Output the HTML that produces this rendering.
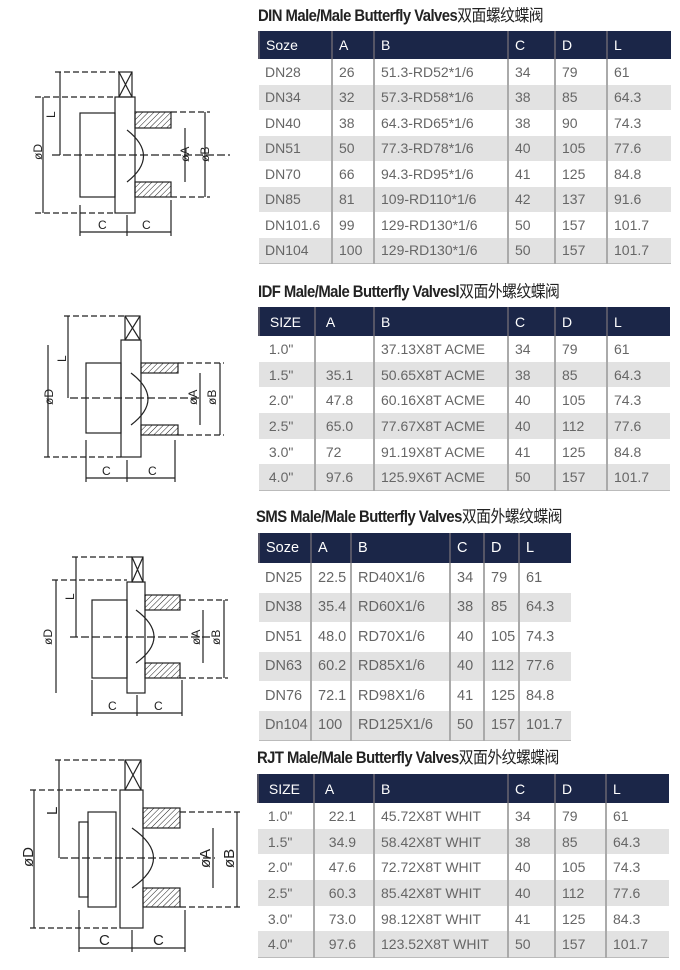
<!DOCTYPE html>
<html><head><meta charset="utf-8"><style>
body{margin:0;width:680px;height:970px;background:#fff;position:relative;overflow:hidden;font-family:"Liberation Sans","Noto Sans CJK SC",sans-serif}
.t{position:absolute;font-weight:bold;font-size:16.5px;color:#222;letter-spacing:-0.6px;transform:scaleX(0.9);transform-origin:left center;white-space:nowrap}
.t span{font-weight:normal}
table{position:absolute;border-collapse:collapse;table-layout:fixed;font-size:14px;color:#666;border-bottom:1px solid #bbb}
td{padding:0 0 0 6px;white-space:nowrap;border-left:2px solid #aaa;overflow:hidden}
td:first-child{border-left:none}
tr.h td{background:#1b2648;color:#fff;border-left:2px solid #556}
tr.g td{background:#e2e2e2}
</style></head><body>
<svg width="680" height="970" style="position:absolute;left:0;top:0">
<defs><pattern id="hp" width="4" height="4" patternUnits="userSpaceOnUse" patternTransform="rotate(45)"><line x1="0" y1="0" x2="0" y2="4" stroke="#222" stroke-width="1"/></pattern></defs>
<g fill="none" stroke="#222" stroke-width="1.2" font-family="Liberation Sans" font-size="12">
<!-- DIN -->
<rect x="119" y="72" width="13" height="25"/><path d="M119,72 L132,97 M132,72 L119,97"/>
<rect x="115" y="97" width="20" height="116"/>
<rect x="80" y="113" width="35" height="84"/>
<rect x="135" y="112" width="36" height="16" fill="url(#hp)"/><rect x="135" y="182" width="36" height="15" fill="url(#hp)"/>
<path d="M127,130 Q160,156 127,182"/>
<path d="M52,155 H230" stroke-dasharray="8,3"/>
<path d="M43,97 V213 M60,72 V155 M185,128 V182 M205,112 V197 M80,232 H171 M80,205 V236 M127,215 V236 M171,200 V236"/>
<path d="M35,97 H115 M35,213 H115 M55,72 H119 M171,112 H210 M171,197 H210" stroke-dasharray="6,3"/>
<g fill="#222" stroke="none"><text x="98" y="229">C</text><text x="142" y="229">C</text>
<text transform="translate(42,160) rotate(-90)">øD</text><text transform="translate(189,162) rotate(-90)">øA</text><text transform="translate(209,162) rotate(-90)">øB</text><text transform="translate(55,118) rotate(-90)">L</text></g>
<!-- IDF -->
<rect x="125" y="316" width="15" height="24"/><path d="M125,316 L140,340 M140,316 L125,340"/>
<rect x="121" y="340" width="20" height="117"/>
<rect x="86" y="363" width="35" height="70"/>
<rect x="141" y="363" width="37" height="10" fill="url(#hp)"/><rect x="141" y="425" width="37" height="10" fill="url(#hp)"/>
<path d="M131,373 Q165,399 131,425"/>
<path d="M70,398 H200" stroke-dasharray="8,3"/>
<path d="M48,345 V457 M68,316 V398 M200,373 V425 M220,363 V435 M86,478 H175 M86,440 V482 M127,460 V482 M175,440 V482"/>
<path d="M44,457 H121 M64,316 H125 M178,363 H224 M178,435 H224" stroke-dasharray="6,3"/>
<g fill="#222" stroke="none"><text x="102" y="475">C</text><text x="148" y="475">C</text>
<text transform="translate(53,405) rotate(-90)">øD</text><text transform="translate(197,405) rotate(-90)">øA</text><text transform="translate(216,405) rotate(-90)">øB</text><text transform="translate(66,362) rotate(-90)">L</text></g>
<!-- SMS -->
<rect x="132" y="557" width="11" height="25"/><path d="M132,557 L143,582 M143,557 L132,582"/>
<rect x="127" y="582" width="18" height="111"/>
<rect x="92" y="600" width="35" height="78"/>
<rect x="145" y="595" width="35" height="15" fill="url(#hp)"/><rect x="145" y="663" width="35" height="15" fill="url(#hp)"/>
<path d="M136,610 Q172,637 136,663"/>
<path d="M70,637 H210" stroke-dasharray="8,3"/>
<path d="M56,580 V693 M76,557 V637 M203,610 V663 M224,600 V678 M92,713 H182 M92,680 V716 M137,695 V716 M182,680 V716"/>
<path d="M52,580 H127 M72,557 H132 M180,600 H228 M180,678 H228" stroke-dasharray="6,3"/>
<g fill="#222" stroke="none"><text x="108" y="710">C</text><text x="154" y="710">C</text>
<text transform="translate(52,645) rotate(-90)">øD</text><text transform="translate(200,645) rotate(-90)">øA</text><text transform="translate(220,645) rotate(-90)">øB</text><text transform="translate(74,600) rotate(-90)">L</text></g>
<!-- RJT -->
<rect x="125" y="760" width="16" height="30"/><path d="M125,760 L141,790 M141,760 L125,790"/>
<rect x="120" y="790" width="23" height="138"/>
<rect x="88" y="812" width="28" height="95"/><rect x="79" y="822" width="9" height="75"/>
<rect x="143" y="808" width="37" height="20" fill="url(#hp)"/><rect x="143" y="888" width="37" height="19" fill="url(#hp)"/>
<path d="M132,828 Q175,858 132,888"/>
<path d="M60,858 H215" stroke-dasharray="8,3"/>
<path d="M34,790 V928 M59,760 V858 M213,828 V888 M237,812 V907 M79,948 H185 M79,910 V952 M132,930 V952 M185,910 V952"/>
<path d="M30,790 H120 M30,928 H120 M55,760 H125 M180,812 H240 M180,907 H240" stroke-dasharray="6,3"/>
<g fill="#222" stroke="none" font-size="15"><text x="99" y="945">C</text><text x="153" y="945">C</text>
<text transform="translate(33,867) rotate(-90)">øD</text><text transform="translate(210,868) rotate(-90)">øA</text><text transform="translate(234,868) rotate(-90)">øB</text><text transform="translate(57,815) rotate(-90)">L</text></g>
</g></svg>

<div class="t" style="left:258px;top:2px">DIN Male/Male Butterfly Valves<span>双面螺纹蝶阀</span></div>
<table style="left:258px;top:31px;width:412px">
<col style="width:73px"><col style="width:42px"><col style="width:134px"><col style="width:47px"><col style="width:52px"><col style="width:64px">
<tr class="h" style="height:28px"><td>Soze</td><td>A</td><td>B</td><td>C</td><td>D</td><td>L</td></tr>
<tr style="height:25.5px"><td>DN28</td><td>26</td><td>51.3-RD52*1/6</td><td>34</td><td>79</td><td>61</td></tr>
<tr class="g" style="height:25.5px"><td>DN34</td><td>32</td><td>57.3-RD58*1/6</td><td>38</td><td>85</td><td>64.3</td></tr>
<tr style="height:25.5px"><td>DN40</td><td>38</td><td>64.3-RD65*1/6</td><td>38</td><td>90</td><td>74.3</td></tr>
<tr class="g" style="height:25.5px"><td>DN51</td><td>50</td><td>77.3-RD78*1/6</td><td>40</td><td>105</td><td>77.6</td></tr>
<tr style="height:25.5px"><td>DN70</td><td>66</td><td>94.3-RD95*1/6</td><td>41</td><td>125</td><td>84.8</td></tr>
<tr class="g" style="height:25.5px"><td>DN85</td><td>81</td><td>109-RD110*1/6</td><td>42</td><td>137</td><td>91.6</td></tr>
<tr style="height:25.5px"><td>DN101.6</td><td>99</td><td>129-RD130*1/6</td><td>50</td><td>157</td><td>101.7</td></tr>
<tr class="g" style="height:25.5px"><td>DN104</td><td>100</td><td>129-RD130*1/6</td><td>50</td><td>157</td><td>101.7</td></tr>
</table>

<div class="t" style="left:258px;top:278px">IDF Male/Male Butterfly Valvesl<span>双面外螺纹蝶阀</span></div>
<table style="left:258px;top:307px;width:411px">
<col style="width:56px"><col style="width:59px"><col style="width:134px"><col style="width:47px"><col style="width:52px"><col style="width:63px">
<tr class="h" style="height:29px"><td>&nbsp;SIZE</td><td>&nbsp;A</td><td>B</td><td>C</td><td>D</td><td>L</td></tr>
<tr style="height:25.7px"><td>&nbsp;1.0"</td><td></td><td>37.13X8T ACME</td><td>34</td><td>79</td><td>61</td></tr>
<tr class="g" style="height:25.7px"><td>&nbsp;1.5"</td><td>&nbsp;35.1</td><td>50.65X8T ACME</td><td>38</td><td>85</td><td>64.3</td></tr>
<tr style="height:25.7px"><td>&nbsp;2.0"</td><td>&nbsp;47.8</td><td>60.16X8T ACME</td><td>40</td><td>105</td><td>74.3</td></tr>
<tr class="g" style="height:25.7px"><td>&nbsp;2.5"</td><td>&nbsp;65.0</td><td>77.67X8T ACME</td><td>40</td><td>112</td><td>77.6</td></tr>
<tr style="height:25.7px"><td>&nbsp;3.0"</td><td>&nbsp;72</td><td>91.19X8T ACME</td><td>41</td><td>125</td><td>84.8</td></tr>
<tr class="g" style="height:25.7px"><td>&nbsp;4.0"</td><td>&nbsp;97.6</td><td>125.9X6T ACME</td><td>50</td><td>157</td><td>101.7</td></tr>
</table>

<div class="t" style="left:256px;top:503px">SMS Male/Male Butterfly Valves<span>双面外螺纹蝶阀</span></div>
<table style="left:258px;top:533px;width:312px;font-size:14.5px">
<col style="width:52px"><col style="width:40px"><col style="width:99px"><col style="width:34px"><col style="width:35px"><col style="width:52px">
<tr class="h" style="height:30px"><td>Soze</td><td>A</td><td>B</td><td>C</td><td>D</td><td>L</td></tr>
<tr style="height:29.5px"><td>DN25</td><td>22.5</td><td>RD40X1/6</td><td>34</td><td>79</td><td>61</td></tr>
<tr class="g" style="height:29.5px"><td>DN38</td><td>35.4</td><td>RD60X1/6</td><td>38</td><td>85</td><td>64.3</td></tr>
<tr style="height:29.5px"><td>DN51</td><td>48.0</td><td>RD70X1/6</td><td>40</td><td>105</td><td>74.3</td></tr>
<tr class="g" style="height:29.5px"><td>DN63</td><td>60.2</td><td>RD85X1/6</td><td>40</td><td>112</td><td>77.6</td></tr>
<tr style="height:29.5px"><td>DN76</td><td>72.1</td><td>RD98X1/6</td><td>41</td><td>125</td><td>84.8</td></tr>
<tr class="g" style="height:29.5px"><td>Dn104</td><td>100</td><td>RD125X1/6</td><td>50</td><td>157</td><td>101.7</td></tr>
</table>

<div class="t" style="left:257px;top:744px">RJT Male/Male Butterfly Valves<span>双面外纹螺蝶阀</span></div>
<table style="left:257px;top:774px;width:411px">
<col style="width:56px"><col style="width:60px"><col style="width:134px"><col style="width:47px"><col style="width:51px"><col style="width:63px">
<tr class="h" style="height:29px"><td>&nbsp;SIZE</td><td>&nbsp;A</td><td>B</td><td>C</td><td>D</td><td>L</td></tr>
<tr style="height:25.7px"><td>&nbsp;1.0"</td><td>&nbsp;&nbsp;22.1</td><td>45.72X8T WHIT</td><td>34</td><td>79</td><td>61</td></tr>
<tr class="g" style="height:25.7px"><td>&nbsp;1.5"</td><td>&nbsp;&nbsp;34.9</td><td>58.42X8T WHIT</td><td>38</td><td>85</td><td>64.3</td></tr>
<tr style="height:25.7px"><td>&nbsp;2.0"</td><td>&nbsp;&nbsp;47.6</td><td>72.72X8T WHIT</td><td>40</td><td>105</td><td>74.3</td></tr>
<tr class="g" style="height:25.7px"><td>&nbsp;2.5"</td><td>&nbsp;&nbsp;60.3</td><td>85.42X8T WHIT</td><td>40</td><td>112</td><td>77.6</td></tr>
<tr style="height:25.7px"><td>&nbsp;3.0"</td><td>&nbsp;&nbsp;73.0</td><td>98.12X8T WHIT</td><td>41</td><td>125</td><td>84.3</td></tr>
<tr class="g" style="height:25.7px"><td>&nbsp;4.0"</td><td>&nbsp;&nbsp;97.6</td><td>123.52X8T WHIT</td><td>50</td><td>157</td><td>101.7</td></tr>
</table>
</body></html>
